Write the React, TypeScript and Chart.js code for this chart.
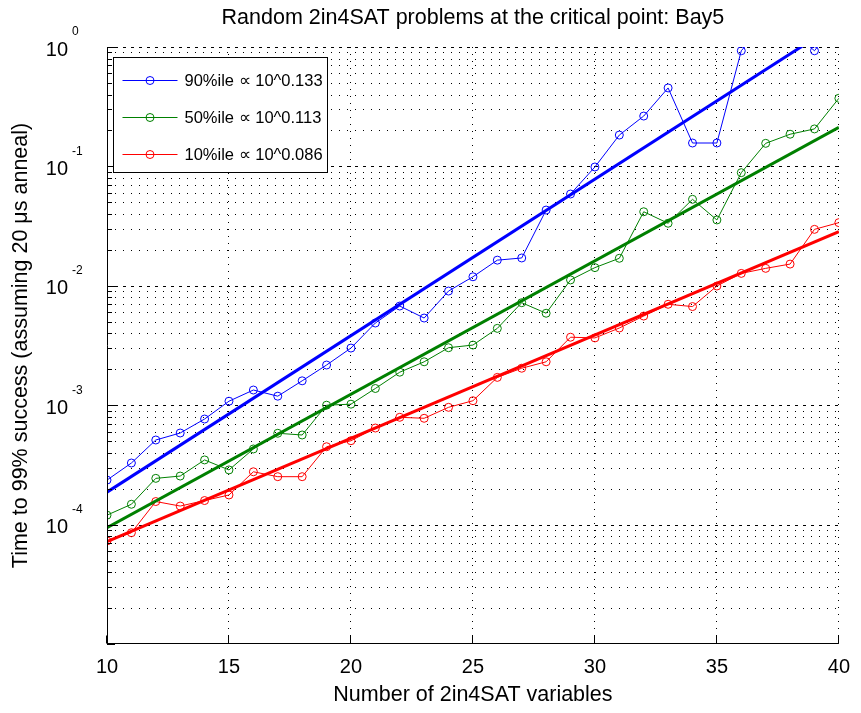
import React, { useEffect, useRef } from "react";
import { Chart, registerables } from "chart.js";

Chart.register(...registerables);

const TITLE = "Random 2in4SAT problems at the critical point: Bay5";
const X_TITLE = "Number of 2in4SAT variables";
const Y_TITLE = "Time to 99% success (assuming 20 μs anneal)";

const variables = [10, 11, 12, 13, 14, 15, 16, 17, 18, 19, 20, 21, 22, 23, 24, 25, 26, 27, 28, 29, 30, 31, 32, 33, 34, 35, 36, 37, 38, 39, 40];

const p90 = [2.36e-4, 3.28e-4, 5.11e-4, 5.85e-4, 7.66e-4, 1.08e-3, 1.34e-3, 1.19e-3, 1.6e-3, 2.17e-3, 3.01e-3, 4.88e-3, 6.77e-3, 5.37e-3, 9.04e-3, 1.19e-2, 1.64e-2, 1.71e-2, 4.31e-2, 5.87e-2, 9.89e-2, 0.183, 0.264, 0.454, 0.157, 0.157, 0.93, 1.6, 1.4, 0.93, 1.7];
const p50 = [1.2e-4, 1.48e-4, 2.44e-4, 2.55e-4, 3.48e-4, 2.87e-4, 4.3e-4, 5.82e-4, 5.63e-4, 1.0e-3, 1.02e-3, 1.38e-3, 1.89e-3, 2.31e-3, 3.03e-3, 3.19e-3, 4.4e-3, 7.22e-3, 5.89e-3, 1.12e-2, 1.42e-2, 1.7e-2, 4.17e-2, 3.34e-2, 5.3e-2, 3.56e-2, 8.86e-2, 0.156, 0.186, 0.206, 0.372];
const p10 = [7.3e-5, 8.55e-5, 1.56e-4, 1.43e-4, 1.59e-4, 1.77e-4, 2.77e-4, 2.52e-4, 2.52e-4, 4.49e-4, 5.04e-4, 6.44e-4, 7.92e-4, 7.77e-4, 9.6e-4, 1.09e-3, 1.71e-3, 2.04e-3, 2.31e-3, 3.71e-3, 3.66e-3, 4.43e-3, 5.58e-3, 7.0e-3, 6.7e-3, 9.96e-3, 1.27e-2, 1.4e-2, 1.52e-2, 2.97e-2, 3.38e-2];

const fitX = [10, 40];
const fit90 = [1.87e-4, 1.6];
const fit50 = [9.4e-5, 0.212];
const fit10 = [7.2e-5, 2.84e-2];

const legendLabels = ["90%ile ∝ 10^0.133", "50%ile ∝ 10^0.113", "10%ile ∝ 10^0.086"];
const seriesColors = ["#0000ff", "#008000", "#ff0000"];

const xTicks = [10, 15, 20, 25, 30, 35, 40];
const yDecades = [1, 0.1, 0.01, 0.001, 0.0001, 0.00001];
const yLabelDecades = [1, 0.1, 0.01, 0.001, 0.0001];
const yLabelExponents = ["0", "-1", "-2", "-3", "-4"];
const yMinorMultipliers = [2, 3, 4, 5, 6, 7, 8, 9];

const FONT = "'Liberation Sans', Arial, Helvetica, sans-serif";

const toPoints = (xs: number[], ys: number[]) => xs.map((x, i) => ({ x, y: ys[i] }));

const hline = (ctx: CanvasRenderingContext2D, x0: number, x1: number, y: number) => {
  ctx.beginPath();
  ctx.moveTo(x0, y);
  ctx.lineTo(x1, y);
  ctx.stroke();
};
const vline = (ctx: CanvasRenderingContext2D, x: number, y0: number, y1: number) => {
  ctx.beginPath();
  ctx.moveTo(x, y0);
  ctx.lineTo(x, y1);
  ctx.stroke();
};

const gridPlugin = {
  id: "matlabGrid",
  beforeDatasetsDraw(chart: any) {
    const { ctx, chartArea, scales } = chart;
    const { left, right, top, bottom } = chartArea;
    const xs = scales.x;
    const ys = scales.y;
    ctx.save();
    ctx.strokeStyle = "#000";
    ctx.lineWidth = 1;
    ctx.setLineDash([1, 7]);
    yDecades.forEach((d) => {
      if (d >= 1) return;
      yMinorMultipliers.forEach((m) => {
        const py = Math.round(ys.getPixelForValue(d * m)) + 0.5;
        if (py > top && py < bottom) hline(ctx, left, right, py);
      });
    });
    ctx.setLineDash([3, 5]);
    yDecades.forEach((d) => {
      const py = Math.round(ys.getPixelForValue(d)) + 0.5;
      if (py < bottom - 1) hline(ctx, left, right, py);
    });
    ctx.setLineDash([1, 6]);
    xTicks.forEach((v) => {
      if (v === 10) return;
      const px = Math.round(xs.getPixelForValue(v)) - 0.5;
      vline(ctx, px, top, bottom);
    });
    ctx.restore();
  },
};

const decorPlugin = {
  id: "matlabDecor",
  afterDatasetsDraw(chart: any) {
    const { ctx, chartArea, scales } = chart;
    const { left, right, top, bottom } = chartArea;
    const xs = scales.x;
    const ys = scales.y;
    ctx.save();
    ctx.strokeStyle = "#000";
    ctx.lineWidth = 1;
    ctx.setLineDash([]);
    const lx = Math.round(left) + 0.5;
    const by = Math.round(bottom) - 0.5;
    vline(ctx, lx, top, by);
    hline(ctx, left, right, by);
    yDecades.forEach((d) => {
      const py = Math.round(ys.getPixelForValue(d)) + 0.5;
      hline(ctx, left, left + 8, py);
      if (d >= 1) return;
      yMinorMultipliers.forEach((m) => {
        const pm = Math.round(ys.getPixelForValue(d * m)) + 0.5;
        hline(ctx, left, left + 5, pm);
      });
    });
    xTicks.forEach((v) => {
      const px = Math.round(xs.getPixelForValue(v)) - 0.5;
      vline(ctx, px, by, by - 8);
    });
    ctx.fillStyle = "#000";
    ctx.textBaseline = "middle";
    yLabelDecades.forEach((d, i) => {
      const py = ys.getPixelForValue(d);
      ctx.font = `20px ${FONT}`;
      ctx.textAlign = "right";
      ctx.fillText("10", left - 39, py + 3);
      ctx.font = `12px ${FONT}`;
      ctx.textAlign = "left";
      ctx.fillText(yLabelExponents[i], left - 35, py - 15);
    });
    ctx.font = `21.5px ${FONT}`;
    ctx.textAlign = "center";
    ctx.fillText(TITLE, (left + right) / 2, 18);
    // legend
    const bx = left + 6.5;
    const byy = top + 10.5;
    const bw = 214;
    const bh = 115;
    ctx.fillStyle = "#fff";
    ctx.fillRect(bx, byy, bw, bh);
    ctx.strokeStyle = "#000";
    ctx.strokeRect(bx, byy, bw, bh);
    legendLabels.forEach((label, i) => {
      const cy = Math.round(byy + 22 + i * 37) + 0.5;
      ctx.strokeStyle = seriesColors[i];
      ctx.lineWidth = 1;
      hline(ctx, bx + 9, bx + 64, cy);
      ctx.beginPath();
      ctx.arc(bx + 36.5, cy, 4, 0, Math.PI * 2);
      ctx.stroke();
      ctx.fillStyle = "#000";
      ctx.font = `16.5px ${FONT}`;
      ctx.textAlign = "left";
      ctx.textBaseline = "middle";
      ctx.fillText(label, bx + 71, cy + 1);
    });
    ctx.restore();
  },
};

export default function App() {
  const canvasRef = useRef<HTMLCanvasElement | null>(null);

  useEffect(() => {
    document.body.style.margin = "0";
    const canvas = canvasRef.current;
    if (!canvas) return;
    const dataStyle = (color: string) => ({
      borderColor: color,
      backgroundColor: "rgba(0,0,0,0)",
      borderWidth: 1,
      pointRadius: 4,
      pointBorderWidth: 1,
      pointBorderColor: color,
      pointBackgroundColor: "rgba(0,0,0,0)",
      pointStyle: "circle",
      tension: 0,
      fill: false,
    });
    const fitStyle = (color: string) => ({
      borderColor: color,
      backgroundColor: color,
      borderWidth: 3,
      pointRadius: 0,
      tension: 0,
      fill: false,
    });
    const chart = new Chart(canvas, {
      type: "line",
      data: {
        datasets: [
          { label: "fit90", data: toPoints(fitX, fit90), ...fitStyle(seriesColors[0]) },
          { label: "fit50", data: toPoints(fitX, fit50), ...fitStyle(seriesColors[1]) },
          { label: "fit10", data: toPoints(fitX, fit10), ...fitStyle(seriesColors[2]) },
          { label: legendLabels[0], data: toPoints(variables, p90), ...dataStyle(seriesColors[0]) },
          { label: legendLabels[1], data: toPoints(variables, p50), ...dataStyle(seriesColors[1]) },
          { label: legendLabels[2], data: toPoints(variables, p10), ...dataStyle(seriesColors[2]) },
        ] as any,
      },
      options: {
        responsive: false,
        animation: false,
        maintainAspectRatio: false,
        layout: { padding: { top: 47, right: 16, left: 0, bottom: 0 } },
        plugins: {
          legend: { display: false },
          tooltip: { enabled: false },
          title: { display: false },
        },
        scales: {
          x: {
            type: "linear",
            min: 10,
            max: 40,
            grid: { display: false, drawTicks: false },
            border: { display: false },
            ticks: {
              stepSize: 5,
              color: "#000",
              font: { family: FONT, size: 20 },
              padding: 11,
              maxRotation: 0,
              autoSkip: false,
            },
            title: {
              display: true,
              text: X_TITLE,
              color: "#000",
              font: { family: FONT, size: 21.5 },
              padding: { top: 0, bottom: 5 },
            },
            afterFit: (s: any) => {
              s.height = 69;
            },
          },
          y: {
            type: "logarithmic",
            min: 1e-5,
            max: 1,
            grid: { display: false, drawTicks: false },
            border: { display: false },
            ticks: { display: false },
            title: {
              display: true,
              text: Y_TITLE,
              color: "#000",
              font: { family: FONT, size: 21.5 },
              padding: { top: 8, bottom: 0 },
            },
            afterFit: (s: any) => {
              s.width = 107;
            },
          },
        },
      } as any,
      plugins: [gridPlugin, decorPlugin],
    });
    return () => chart.destroy();
  }, []);

  return (
    <div style={{ position: "absolute", left: 0, top: 0, width: 861, height: 713, background: "#fff" }}>
      <canvas ref={canvasRef} width={861} height={713} style={{ display: "block" }} />
    </div>
  );
}
